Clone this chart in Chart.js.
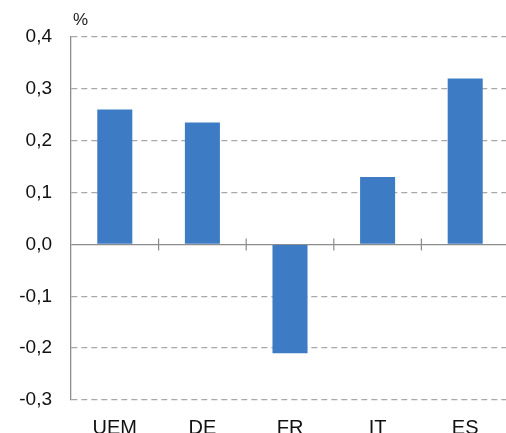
<!DOCTYPE html>
<html>
<head>
<meta charset="utf-8">
<script src="https://cdn.jsdelivr.net/npm/chart.js@4"></script>
<style>
  html, body { margin: 0; padding: 0; background: #fff; overflow: hidden; }
  #wrap { width: 512px; height: 433px; }
</style>
</head>
<body>
<div id="wrap"><canvas id="chart"></canvas></div>
<script>
// data
const categories = ["UEM", "DE", "FR", "IT", "ES"];
const values = [0.26, 0.235, -0.21, 0.13, 0.32];
const yMin = -0.3;
const yMax = 0.4;

const barColor = "#3d7cc4";
const gridColor = "#a8a8a8";

// "%" unit label + small tick marks on the zero line between categories
const extras = {
  id: "extras",
  afterDraw(chart) {
    const { ctx, chartArea, scales } = chart;
    const x = scales.x;
    const y0 = scales.y.getPixelForValue(0);
    ctx.save();
    ctx.strokeStyle = "#8c8c8c";
    ctx.lineWidth = 1.2;
    for (let i = 1; i < categories.length; i++) {
      const bx = (x.getPixelForValue(i - 1) + x.getPixelForValue(i)) / 2;
      ctx.beginPath();
      ctx.moveTo(bx, y0 - 6);
      ctx.lineTo(bx, y0 + 6);
      ctx.stroke();
    }
    ctx.fillStyle = "#222";
    ctx.font = "17px 'Liberation Sans', Arial, sans-serif";
    ctx.textBaseline = "alphabetic";
    ctx.fillText("%", chartArea.left + 2, chartArea.top - 12);
    ctx.restore();
  },
};

new Chart(document.getElementById("chart"), {
  type: "bar",
  data: {
    labels: categories,
    datasets: [
      {
        data: values,
        backgroundColor: barColor,
        borderWidth: 0,
        barPercentage: 0.4,
        categoryPercentage: 1,
      },
    ],
  },
  options: {
    responsive: true,
    maintainAspectRatio: false,
    animation: false,
    layout: { padding: { top: 37, right: 3, left: 0, bottom: 0 } },
    plugins: {
      legend: { display: false },
      tooltip: { enabled: false },
    },
    scales: {
      x: {
        grid: { display: false, drawTicks: false },
        border: { display: false },
        ticks: {
          color: "#111",
          padding: 16,
          font: { family: "'Liberation Sans', Arial, sans-serif", size: 20 },
        },
        afterFit(scale) {
          scale.height = 33;
        },
      },
      y: {
        min: yMin,
        max: yMax,
        ticks: {
          stepSize: 0.1,
          color: "#111",
          padding: 19,
          font: { family: "'Liberation Sans', Arial, sans-serif", size: 19 },
          callback: (v) => v.toFixed(1).replace(".", ","),
        },
        grid: {
          drawTicks: false,
          color: (c) => (c.tick && Math.abs(c.tick.value) < 1e-9 ? "#8c8c8c" : gridColor),
          lineWidth: 1.3,
        },
        border: {
          display: true,
          color: "#8c8c8c",
          width: 1.3,
          dash: (c) => (c.tick && Math.abs(c.tick.value) < 1e-9 ? [] : [6, 4]),
        },
        afterFit(scale) {
          scale.width = 71;
        },
      },
    },
  },
  plugins: [extras],
});
</script>
</body>
</html>
